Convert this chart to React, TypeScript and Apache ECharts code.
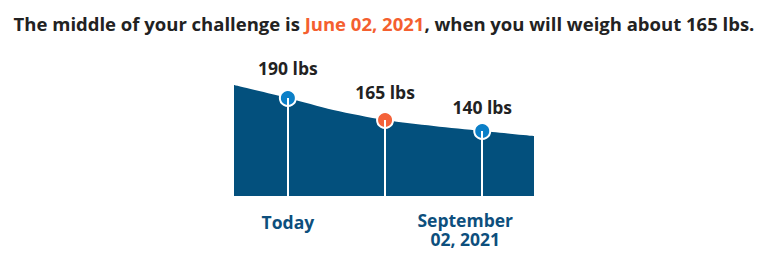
import React, { useEffect, useRef } from "react";
import * as echarts from "echarts";

// days relative to today
const curveDays = [-51, 0, 43, 92, 138, 184, 233];
// visual curve height (chart units)
const curveHeights = [111, 98, 86, 76, 70, 65, 60];

const markerDays = [0, 92, 184];
const markerHeights = [98, 76, 65];
const markerLabels = ["190 lbs", "165 lbs", "140 lbs"];
const markerColors = ["#0b7fc7", "#f4623a", "#0b7fc7"];
const markerLabelGap = [12, 10, 6];

const axisTickDays = [0, 184];
const axisTickLabels = ["Today", "September\n02, 2021"];

const titleParts = ["The middle of your challenge is ", "June 02, 2021", ", when you will weigh about 165 lbs."];

const FONT = "Open Sans";

export default function App() {
  const ref = useRef<HTMLDivElement>(null);
  useEffect(() => {
    document.body.style.margin = "0";
    const chart = echarts.init(ref.current!, null, { renderer: "svg" });
    chart.setOption({
      animation: false,
      title: {
        left: "center",
        top: 9,
        text: `{a|${titleParts[0]}}{b|${titleParts[1]}}{a|${titleParts[2]}}`,
        textStyle: {
          rich: {
            a: { fontFamily: FONT, fontSize: 18.5, fontWeight: "bold", color: "#222222" },
            b: { fontFamily: FONT, fontSize: 18.5, fontWeight: "bold", color: "#f45f2f" },
          },
        },
      },
      grid: { left: 234, top: 60, width: 300, height: 136 },
      xAxis: {
        type: "value",
        min: -51,
        max: 233,
        axisLine: { show: false },
        axisTick: { show: false },
        splitLine: { show: false },
        axisLabel: {
          customValues: axisTickDays,
          margin: 14,
          verticalAlign: "top",
          formatter: (v: number) => {
            const i = axisTickDays.indexOf(v);
            return i === 0 ? `{t|${axisTickLabels[i]}}` : `{s|${axisTickLabels[i]}}`;
          },
          rich: {
            t: { fontFamily: FONT, fontSize: 17.5, fontWeight: "bold", color: "#0d4f7d", lineHeight: 19, padding: [4, 0, 0, 0] },
            s: { fontFamily: FONT, fontSize: 17.5, fontWeight: "bold", color: "#0d4f7d", lineHeight: 19, align: "center", padding: [0, 34, 0, 0] },
          },
        },
      },
      yAxis: { type: "value", min: 0, max: 136, show: false },
      series: [
        {
          type: "line",
          data: curveDays.map((d, i) => [d, curveHeights[i]]),
          smooth: 0.3,
          symbol: "none",
          lineStyle: { width: 0 },
          areaStyle: { color: "#03507d", opacity: 1 },
          z: 1,
        },
        {
          type: "scatter",
          z: 3,
          symbolSize: 16,
          data: markerDays.map((d, i) => ({
            value: [d, markerHeights[i]],
            itemStyle: { color: markerColors[i], borderColor: "#ffffff", borderWidth: 2, opacity: 1 },
            label: {
              show: true,
              position: "top",
              distance: markerLabelGap[i],
              formatter: markerLabels[i],
              fontFamily: FONT,
              fontSize: 17.5,
              fontWeight: "bold",
              color: "#222222",
            },
          })),
          markLine: {
            silent: true,
            symbol: "none",
            label: { show: false },
            lineStyle: { color: "#ffffff", width: 2, type: "solid" },
            data: markerDays.map((d, i) => [{ coord: [d, 0] }, { coord: [d, markerHeights[i]] }]),
          },
        },
      ],
    });
    return () => chart.dispose();
  }, []);
  return <div ref={ref} style={{ width: 768, height: 253 }} />;
}
